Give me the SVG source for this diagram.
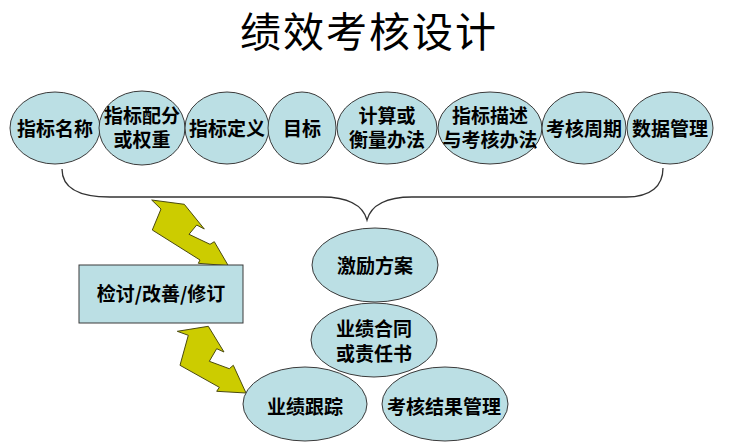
<svg xmlns="http://www.w3.org/2000/svg" width="729" height="444" viewBox="0 0 729 444">
<style>
.node{fill:#BBDFE4;stroke:#3a3a3a;stroke-width:1}
.lbl{font-family:"Noto Sans CJK SC","Noto Sans",sans-serif;font-weight:700;font-size:19px;fill:#000;text-anchor:middle}
.title{font-family:"Noto Sans CJK SC","Noto Sans",sans-serif;font-weight:400;font-size:41px;fill:#000;text-anchor:middle}
.bolt{fill:#CCCC00;stroke:#4a4a10;stroke-width:1;stroke-linejoin:miter}
.brace{fill:none;stroke:#333;stroke-width:1.3}
</style>
<rect width="729" height="444" fill="#fff"/>
<text class="title" x="369" y="47" letter-spacing="2">绩效考核设计</text>

<g id="n1"><ellipse class="node" cx="55" cy="128" rx="45" ry="36"/><text class="lbl" x="55" y="136">指标名称</text></g>
<g id="n2"><ellipse class="node" cx="142" cy="128" rx="43" ry="37"/><text class="lbl" x="142" y="123">指标配分</text><text class="lbl" x="142" y="147">或权重</text></g>
<g id="n3"><ellipse class="node" cx="227" cy="128" rx="42" ry="36"/><text class="lbl" x="227" y="136">指标定义</text></g>
<g id="n4"><ellipse class="node" cx="302" cy="128" rx="34" ry="36"/><text class="lbl" x="302" y="136">目标</text></g>
<g id="n5"><ellipse class="node" cx="387" cy="128" rx="50" ry="36"/><text class="lbl" x="387" y="123">计算或</text><text class="lbl" x="387" y="147">衡量办法</text></g>
<g id="n6"><ellipse class="node" cx="490" cy="128" rx="52" ry="36"/><text class="lbl" x="490" y="123">指标描述</text><text class="lbl" x="490" y="147">与考核办法</text></g>
<g id="n7"><ellipse class="node" cx="584" cy="128" rx="42" ry="36"/><text class="lbl" x="584" y="136">考核周期</text></g>
<g id="n8"><ellipse class="node" cx="670" cy="128" rx="43" ry="36"/><text class="lbl" x="670" y="136">数据管理</text></g>

<g id="connectors">
<path class="brace" d="M62,169 C62,186 76,197 110,197 L322,197 C347,197 363,205 367,220 C371,205 387,197 412,197 L626,197 C651,197 663,186 663,168"/>
<polygon class="bolt" points="151.7,200 184.3,204.3 204.3,229 196.7,225 189,234.3 210,244.3 214.3,241.7 228.3,265.7 198.3,263.3 200,260 152.3,230 161,209"/>
<polygon class="bolt" points="177.3,331.3 208.3,326.3 224,352 216.7,348.7 209.3,361.3 229.3,368.7 233.3,365.3 246,393 216.7,391.3 219.3,387.3 180,365.3 188.3,335.3"/>
</g>

<g id="review"><rect class="node" x="79" y="265" width="164" height="58"/><text class="lbl" x="161" y="301">检讨/改善/修订</text></g>
<g id="incentive"><ellipse class="node" cx="375" cy="265" rx="63" ry="37"/><text class="lbl" x="375" y="273">激励方案</text></g>
<g id="contract"><ellipse class="node" cx="374" cy="340" rx="63" ry="37"/><text class="lbl" x="374" y="336">业绩合同</text><text class="lbl" x="374" y="361">或责任书</text></g>
<g id="tracking"><ellipse class="node" cx="305" cy="404" rx="62" ry="37"/><text class="lbl" x="305" y="414">业绩跟踪</text></g>
<g id="results"><ellipse class="node" cx="445" cy="404" rx="63" ry="37"/><text class="lbl" x="444" y="414">考核结果管理</text></g>
</svg>
